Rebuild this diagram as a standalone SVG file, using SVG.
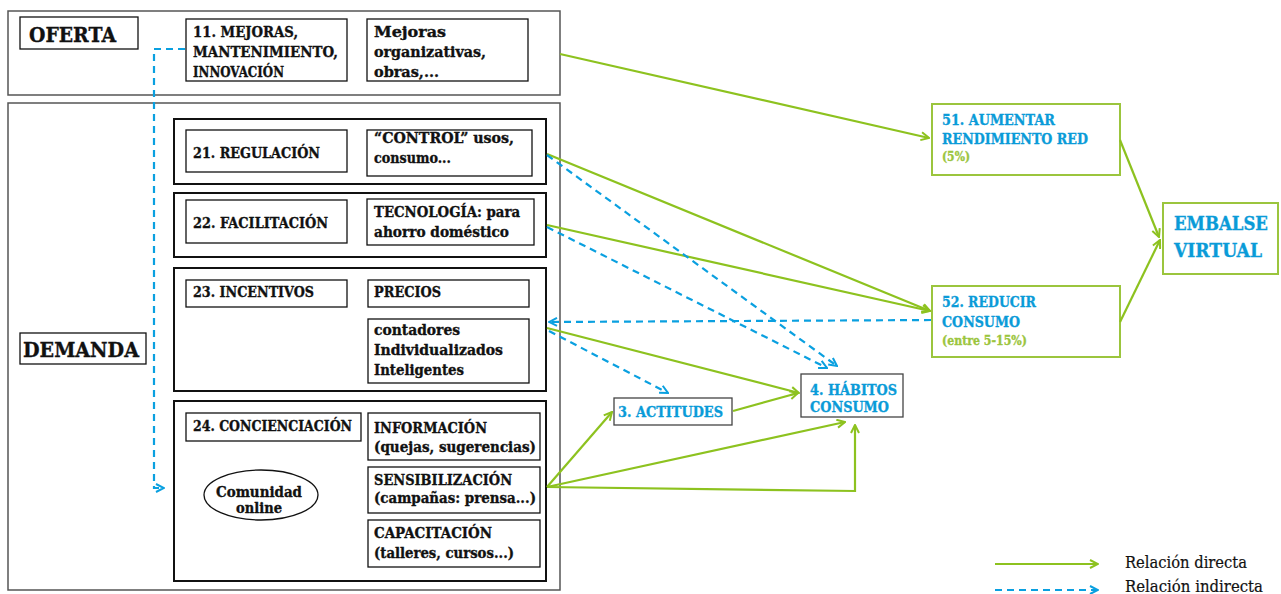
<svg xmlns="http://www.w3.org/2000/svg" width="1281" height="594" viewBox="0 0 1281 594">
<style>
text{font-family:"DejaVu Serif","Liberation Serif",serif;font-weight:bold;font-size:14px;fill:#111;stroke:#111;stroke-width:0.35}
.outer{fill:none;stroke:#555;stroke-width:1.5}
.grp{fill:none;stroke:#111;stroke-width:2}
.box{fill:#fff;stroke:#111;stroke-width:1.3}
.gbox{fill:#fff;stroke:#9BC53D;stroke-width:2}
.bt{fill:#0A9BD8;stroke:#0A9BD8;font-size:15px}
.gt{fill:#9BC53D;stroke:#9BC53D;font-size:12px}
.g{fill:none;stroke:#8DC21F;stroke-width:2.2}
.b{fill:none;stroke:#0AA0E0;stroke-width:2.2;stroke-dasharray:7 5}
.leg{font-weight:normal;font-size:16px;stroke-width:0.2}
</style>
<defs>
<marker id="ag" viewBox="0 0 10 10" refX="9" refY="5" markerWidth="10" markerHeight="10" markerUnits="userSpaceOnUse" orient="auto"><path d="M1,1 L9,5 L1,9" fill="none" stroke="#8DC21F" stroke-width="2"/></marker>
<marker id="ab" viewBox="0 0 10 10" refX="9" refY="5" markerWidth="10" markerHeight="10" markerUnits="userSpaceOnUse" orient="auto"><path d="M1,1 L9,5 L1,9" fill="none" stroke="#0AA0E0" stroke-width="2"/></marker>
</defs>
<rect width="1281" height="594" fill="#fff"/>

<g id="oferta">
<rect class="outer" x="8" y="11" width="552" height="84"/>
<rect class="box" x="20" y="17" width="118" height="32"/>
<text x="29" y="42" style="font-size:20px" textLength="87" lengthAdjust="spacingAndGlyphs">OFERTA</text>
</g>
<g id="n11">
<rect class="box" x="186" y="19" width="161" height="62"/>
<text x="193" y="37" textLength="105" lengthAdjust="spacingAndGlyphs">11. MEJORAS,</text>
<text x="193" y="57" textLength="145" lengthAdjust="spacingAndGlyphs">MANTENIMIENTO,</text>
<text x="193" y="77" textLength="91" lengthAdjust="spacingAndGlyphs">INNOVACIÓN</text>
</g>
<g id="mejoras">
<rect class="box" x="367" y="19" width="161" height="62"/>
<text x="374" y="37" textLength="72" lengthAdjust="spacingAndGlyphs">Mejoras</text>
<text x="374" y="57" textLength="112" lengthAdjust="spacingAndGlyphs">organizativas,</text>
<text x="374" y="77" textLength="65" lengthAdjust="spacingAndGlyphs">obras,...</text>
</g>

<g id="demanda">
<rect class="outer" x="8" y="103" width="552" height="487"/>
<rect class="box" x="20" y="333" width="126" height="31"/>
<text x="23" y="357" style="font-size:21px" textLength="116" lengthAdjust="spacingAndGlyphs">DEMANDA</text>
</g>

<g id="g21">
<rect class="grp" x="174" y="119" width="372" height="65"/>
<rect class="box" x="186" y="130" width="161" height="42"/>
<text x="193" y="158" textLength="127" lengthAdjust="spacingAndGlyphs">21. REGULACIÓN</text>
<rect class="box" x="367" y="130" width="165" height="46"/>
<text x="374" y="143" textLength="140" lengthAdjust="spacingAndGlyphs">“CONTROL” usos,</text>
<text x="374" y="163" textLength="77" lengthAdjust="spacingAndGlyphs">consumo...</text>
</g>
<g id="g22">
<rect class="grp" x="174" y="193" width="372" height="64"/>
<rect class="box" x="186" y="200" width="161" height="43"/>
<text x="193" y="228" textLength="135" lengthAdjust="spacingAndGlyphs">22. FACILITACIÓN</text>
<rect class="box" x="367" y="199" width="167" height="46"/>
<text x="374" y="217" textLength="146" lengthAdjust="spacingAndGlyphs">TECNOLOGÍA: para</text>
<text x="374" y="237" textLength="135" lengthAdjust="spacingAndGlyphs">ahorro doméstico</text>
</g>
<g id="g23">
<rect class="grp" x="174" y="268" width="372" height="123"/>
<rect class="box" x="186" y="280" width="161" height="27"/>
<text x="193" y="297" textLength="121" lengthAdjust="spacingAndGlyphs">23. INCENTIVOS</text>
<rect class="box" x="368" y="280" width="161" height="27"/>
<text x="374" y="297" textLength="67" lengthAdjust="spacingAndGlyphs">PRECIOS</text>
<rect class="box" x="368" y="319" width="161" height="64"/>
<text x="374" y="335" textLength="86" lengthAdjust="spacingAndGlyphs">contadores</text>
<text x="374" y="355" textLength="129" lengthAdjust="spacingAndGlyphs">Individualizados</text>
<text x="374" y="375" textLength="90" lengthAdjust="spacingAndGlyphs">Inteligentes</text>
</g>
<g id="g24">
<rect class="grp" x="174" y="401" width="372" height="180"/>
<rect class="box" x="186" y="413" width="175" height="28"/>
<text x="193" y="431" textLength="159" lengthAdjust="spacingAndGlyphs">24. CONCIENCIACIÓN</text>
<rect class="box" x="368" y="413" width="172" height="47"/>
<text x="374" y="433" textLength="113" lengthAdjust="spacingAndGlyphs">INFORMACIÓN</text>
<text x="374" y="452" textLength="162" lengthAdjust="spacingAndGlyphs">(quejas, sugerencias)</text>
<rect class="box" x="368" y="467" width="172" height="46"/>
<text x="374" y="485" textLength="138" lengthAdjust="spacingAndGlyphs">SENSIBILIZACIÓN</text>
<text x="374" y="503" textLength="162" lengthAdjust="spacingAndGlyphs">(campañas: prensa...)</text>
<rect class="box" x="368" y="520" width="172" height="47"/>
<text x="374" y="538" textLength="118" lengthAdjust="spacingAndGlyphs">CAPACITACIÓN</text>
<text x="374" y="558" textLength="140" lengthAdjust="spacingAndGlyphs">(talleres, cursos...)</text>
<ellipse class="box" cx="261" cy="495" rx="57" ry="25"/>
<text x="216" y="497" textLength="86" lengthAdjust="spacingAndGlyphs">Comunidad</text>
<text x="236" y="513" textLength="46" lengthAdjust="spacingAndGlyphs">online</text>
</g>

<g id="n51">
<rect class="gbox" x="932" y="104" width="188" height="71"/>
<text class="bt" x="942" y="125" textLength="113" lengthAdjust="spacingAndGlyphs">51. AUMENTAR</text>
<text class="bt" x="942" y="144" textLength="146" lengthAdjust="spacingAndGlyphs">RENDIMIENTO RED</text>
<text class="gt" x="942" y="161" textLength="28" lengthAdjust="spacingAndGlyphs">(5%)</text>
</g>
<g id="n52">
<rect class="gbox" x="932" y="286" width="188" height="71"/>
<text class="bt" x="942" y="307" textLength="94" lengthAdjust="spacingAndGlyphs">52. REDUCIR</text>
<text class="bt" x="942" y="327" textLength="78" lengthAdjust="spacingAndGlyphs">CONSUMO</text>
<text class="gt" x="942" y="345" textLength="85" lengthAdjust="spacingAndGlyphs">(entre 5-15%)</text>
</g>
<g id="embalse">
<rect class="gbox" x="1163" y="203" width="115" height="71"/>
<text class="bt" x="1174" y="230" style="font-size:19px" textLength="94" lengthAdjust="spacingAndGlyphs">EMBALSE</text>
<text class="bt" x="1174" y="257" style="font-size:19px" textLength="88" lengthAdjust="spacingAndGlyphs">VIRTUAL</text>
</g>
<g id="n3">
<rect class="box" x="614" y="398" width="118" height="27" style="stroke:#444"/>
<text class="bt" x="618" y="417" textLength="105" lengthAdjust="spacingAndGlyphs">3. ACTITUDES</text>
</g>
<g id="n4">
<rect class="box" x="801" y="374" width="102" height="43" style="stroke:#444"/>
<text class="bt" x="810" y="395" textLength="87" lengthAdjust="spacingAndGlyphs">4. HÁBITOS</text>
<text class="bt" x="810" y="412" textLength="79" lengthAdjust="spacingAndGlyphs">CONSUMO</text>
</g>

<g id="connectors">
<polyline class="b" points="185,49 154,49 154,488 164,488" marker-end="url(#ab)"/>
<line class="g" x1="560" y1="54" x2="929" y2="138" marker-end="url(#ag)"/>
<line class="g" x1="547" y1="154" x2="930" y2="311" marker-end="url(#ag)"/>
<line class="g" x1="547" y1="225" x2="930" y2="311" marker-end="url(#ag)"/>
<line class="b" x1="547" y1="155" x2="837" y2="366" marker-end="url(#ab)"/>
<line class="b" x1="547" y1="227" x2="827" y2="368" marker-end="url(#ab)"/>
<line class="b" x1="931" y1="320" x2="549" y2="322" marker-end="url(#ab)"/>
<line class="g" x1="547" y1="328" x2="799" y2="393" marker-end="url(#ag)"/>
<line class="b" x1="549" y1="331" x2="668" y2="393" marker-end="url(#ab)"/>
<line class="g" x1="733" y1="411" x2="798" y2="393" marker-end="url(#ag)"/>
<line class="g" x1="547" y1="487" x2="612" y2="412" marker-end="url(#ag)"/>
<line class="g" x1="547" y1="487" x2="845" y2="422" marker-end="url(#ag)"/>
<polyline class="g" points="547,487 855,491 855,425" marker-end="url(#ag)"/>
<line class="g" x1="1120" y1="140" x2="1159" y2="237" marker-end="url(#ag)"/>
<line class="g" x1="1120" y1="322" x2="1160" y2="240" marker-end="url(#ag)"/>
</g>

<g id="legend">
<line class="g" x1="995" y1="564" x2="1098" y2="564" marker-end="url(#ag)"/>
<text class="leg" x="1125" y="568" textLength="122" lengthAdjust="spacingAndGlyphs">Relación directa</text>
<line class="b" x1="995" y1="590" x2="1098" y2="590" marker-end="url(#ab)"/>
<text class="leg" x="1125" y="592" textLength="138" lengthAdjust="spacingAndGlyphs">Relación indirecta</text>
</g>
</svg>
